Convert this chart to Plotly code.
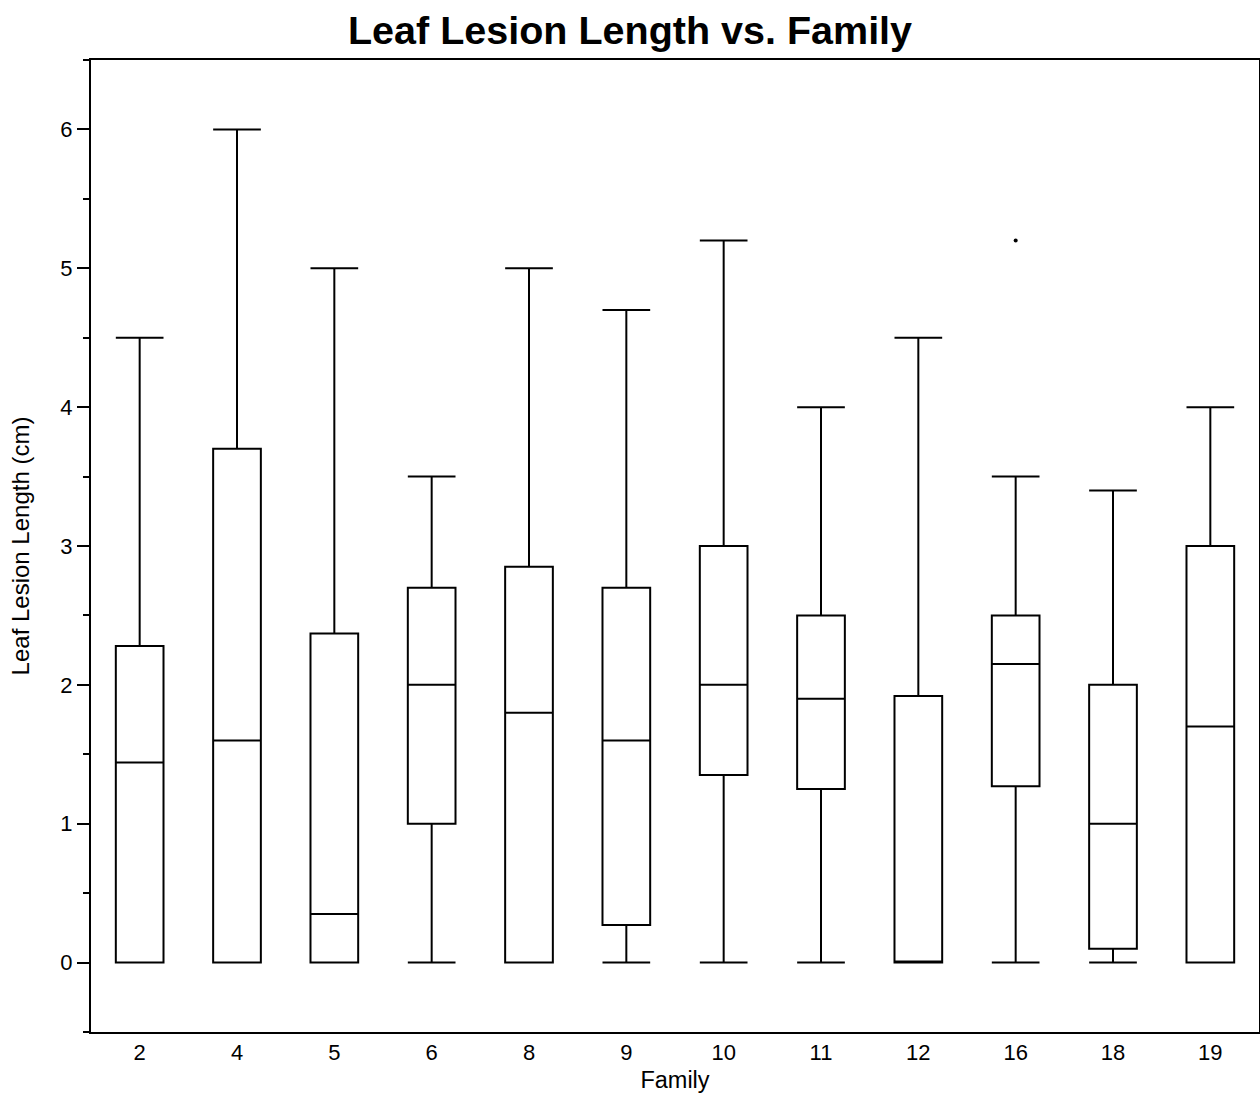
import plotly.graph_objects as go

families = ["2", "4", "5", "6", "8", "9", "10", "11", "12", "16", "18", "19"]
lower = [0, 0, 0, 0, 0, 0, 0, 0, 0, 0, 0, 0]
q1 = [0, 0, 0, 1.0, 0, 0.27, 1.35, 1.25, 0, 1.27, 0.1, 0]
median = [1.44, 1.6, 0.35, 2.0, 1.8, 1.6, 2.0, 1.9, 0, 2.15, 1.0, 1.7]
q3 = [2.28, 3.7, 2.37, 2.7, 2.85, 2.7, 3.0, 2.5, 1.92, 2.5, 2.0, 3.0]
upper = [4.5, 6.0, 5.0, 3.5, 5.0, 4.7, 5.2, 4.0, 4.5, 3.5, 3.4, 4.0]
outlier_family = ["16"]
outlier_value = [5.2]

font = "Liberation Sans, Arial, Helvetica, sans-serif"

fig = go.Figure()
fig.add_trace(go.Box(
    x=families, q1=q1, median=median, q3=q3,
    lowerfence=lower, upperfence=upper,
    fillcolor="white", line=dict(color="black", width=2),
    whiskerwidth=1, boxpoints=False, showlegend=False,
))
fig.add_trace(go.Scatter(
    x=outlier_family, y=outlier_value, mode="markers",
    marker=dict(color="black", size=4), showlegend=False,
))

fig.update_layout(
    width=1260, height=1093,
    paper_bgcolor="white", plot_bgcolor="white",
    margin=dict(l=91, r=1, t=60, b=61, autoexpand=False),
    boxgap=0.51, boxgroupgap=0,
    font=dict(family=font, color="black", size=22),
    title=dict(text="<b>Leaf Lesion Length vs. Family</b>", x=0.5, xanchor="center",
               y=1 - 30 / 1093, yanchor="middle", font=dict(size=39.5, family=font)),
    xaxis=dict(
        type="category", categoryorder="array", categoryarray=families,
        range=[-0.5, 11.5], showgrid=False, zeroline=False,
        showline=True, linecolor="black", linewidth=2, mirror=True,
        ticks="", tickfont=dict(size=22), automargin=False,
        title=dict(text="Family", font=dict(size=23.5), standoff=7),
    ),
    yaxis=dict(
        range=[-0.5, 6.5], showgrid=False, zeroline=False,
        showline=True, linecolor="black", linewidth=2, mirror=True,
        tickmode="linear", tick0=0, dtick=1, automargin=False,
        ticks="outside", ticklen=12, tickwidth=2, tickcolor="black",
        minor=dict(ticks="outside", ticklen=6, tickwidth=1.5, dtick=0.5, tick0=0, tickcolor="black"),
        tickfont=dict(size=22),
        title=dict(text="Leaf Lesion Length (cm)", font=dict(size=24), standoff=24),
    ),
)

fig.write_html(
    "out.html",
    config={"displayModeBar": False},
    post_script="document.body.style.margin='0';document.documentElement.style.overflow='hidden';document.body.style.overflow='hidden';",
)
